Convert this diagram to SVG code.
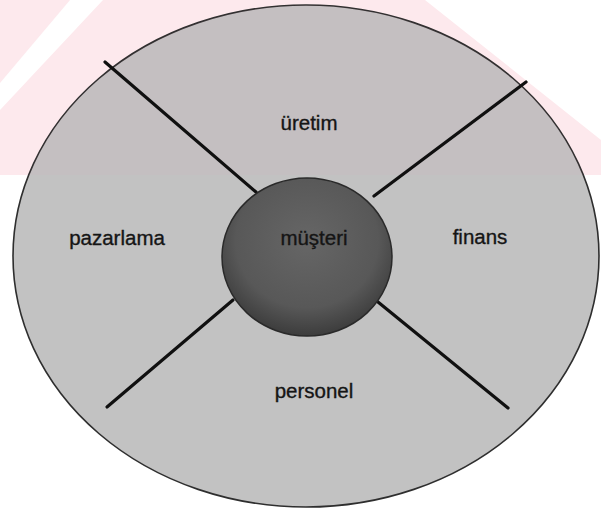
<svg xmlns="http://www.w3.org/2000/svg" width="601" height="511" viewBox="0 0 601 511">
  <style>
    .lbl { font-family: "Liberation Sans", Arial, sans-serif; font-size: 20.5px; fill: #151515; stroke: #151515; stroke-width: 0.35; text-anchor: middle; }
    .conn { stroke: #101010; stroke-width: 3.2; stroke-linecap: round; fill: none; }
  </style>
  <defs>
    <radialGradient id="diskGrad" cx="0.5" cy="0.4" r="0.6">
      <stop offset="0" stop-color="#666666"/>
      <stop offset="0.7" stop-color="#585858"/>
      <stop offset="1" stop-color="#3c3c3c"/>
    </radialGradient>
    <clipPath id="outerClip">
      <ellipse cx="306" cy="256" rx="293" ry="251"/>
    </clipPath>
  </defs>
  <rect x="0" y="0" width="601" height="511" fill="#ffffff"/>
  <g id="watermark">
    <polygon points="0,0 70,0 0,83" fill="#fde9ed"/>
    <polygon points="103,0 425,0 601,140 601,175 0,175 0,110" fill="#fde9ed"/>
  </g>
  <g id="outer">
    <ellipse cx="306" cy="256" rx="293" ry="251" fill="#c2c2c2" stroke="#2e2e2e" stroke-width="1.6"/>
    <rect x="0" y="0" width="601" height="175" fill="#f2a0b4" opacity="0.06" clip-path="url(#outerClip)"/>
  </g>
  <g id="connectors">
    <line class="conn" x1="105" y1="62" x2="256" y2="192"/>
    <line class="conn" x1="526" y1="82" x2="374" y2="196"/>
    <line class="conn" x1="107" y1="407" x2="233" y2="300"/>
    <line class="conn" x1="378" y1="302" x2="508" y2="408"/>
  </g>
  <g id="center">
    <ellipse cx="307" cy="257" rx="85" ry="79" fill="url(#diskGrad)" stroke="#2a2a2a" stroke-width="1.5"/>
    <text class="lbl" x="314" y="245">müşteri</text>
  </g>
  <g id="uretim"><text class="lbl" x="309" y="130">üretim</text></g>
  <g id="pazarlama"><text class="lbl" x="117" y="245">pazarlama</text></g>
  <g id="finans"><text class="lbl" x="480" y="244">finans</text></g>
  <g id="personel"><text class="lbl" x="314" y="398">personel</text></g>
</svg>
